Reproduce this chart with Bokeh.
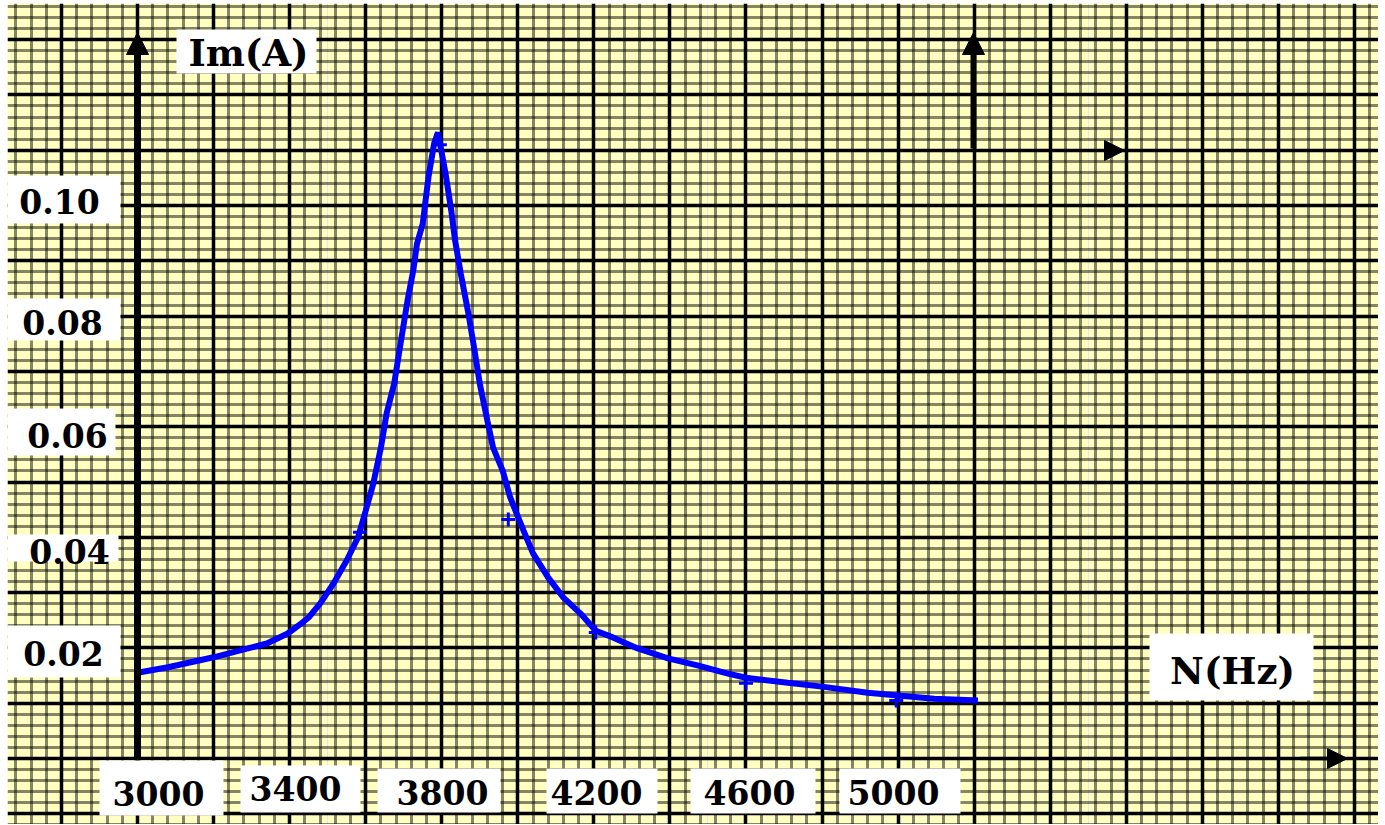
from bokeh.plotting import figure
from bokeh.models import Grid, FixedTicker, BoxAnnotation, Label, Arrow, NormalHead, Range1d
from bokeh.embed import file_html
from bokeh.resources import INLINE

# ---------------- data ----------------
freq = [3000, 3080, 3200, 3290, 3340, 3395, 3430, 3450, 3480, 3515,
        3550, 3580, 3600, 3620, 3640, 3655, 3675, 3690, 3710, 3725,
        3735, 3750, 3765, 3780, 3790, 3810, 3825, 3835, 3850, 3870,
        3885, 3900, 3920, 3935, 3960, 3980, 4015, 4040, 4080, 4120,
        4165, 4205, 4250, 4315, 4395, 4475, 4550, 4600, 4710, 4800,
        4920, 5000, 5095, 5210]
current = [0.0155, 0.0165, 0.0183, 0.0199, 0.0208, 0.0226, 0.0244, 0.0255, 0.0280, 0.0316,
           0.0358, 0.0400, 0.0448, 0.0497, 0.0562, 0.0624, 0.0678, 0.0743, 0.0828, 0.0882,
           0.0931, 0.0967, 0.1051, 0.1112, 0.1132, 0.1058, 0.0991, 0.0937, 0.0877, 0.0805,
           0.0743, 0.0678, 0.0611, 0.0562, 0.0521, 0.0472, 0.0412, 0.0371, 0.0327, 0.0291,
           0.0262, 0.0231, 0.0219, 0.0199, 0.0181, 0.0168, 0.0154, 0.0146, 0.0137, 0.0130,
           0.0119, 0.0114, 0.0108, 0.0105]

meas_freq = [3585, 3795, 3975, 4205, 4600, 4995]
meas_current = [0.0409, 0.1110, 0.0432, 0.0228, 0.0136, 0.0105]

y_labels = ["0.10", "0.08", "0.06", "0.04", "0.02"]
x_labels = ["3000", "3400", "3800", "4200", "4600", "5000"]
x_title = "N(Hz)"
y_title = "Im(A)"

# ---------------- layout helpers (page pixels -> data) ----------------
LEFT, TOP = 7, 3
W, H = 1378, 824
PX_PER_HZ = 0.3803
PX_PER_A = 5530.0


def X(px):
    return 3000 + (px - 137) / PX_PER_HZ


def Y(py):
    return (758 - py) / PX_PER_A


p = figure(width=W, height=H, output_backend="svg", toolbar_location=None,
           x_axis_location=None, y_axis_location=None,
           x_range=Range1d(X(LEFT), X(W)), y_range=Range1d(Y(H), Y(TOP)),
           min_border=0, min_border_left=LEFT, min_border_top=TOP,
           background_fill_color="#FFFFC0",
           border_fill_color="white", outline_line_color=None)

# graph-paper grid
x_major = [2600 + 200 * k for k in range(20)]
x_minor = [2600 + 40 * k for k in range(100) if k % 5 != 0]
y_major = [round(-0.02 + 0.01 * k, 4) for k in range(18)]
y_minor = [round(-0.02 + 0.002 * k, 4) for k in range(90) if k % 5 != 0]

for dim, maj, mnr in ((0, x_major, x_minor), (1, y_major, y_minor)):
    g = Grid(dimension=dim, ticker=FixedTicker(ticks=maj, minor_ticks=mnr),
             grid_line_color="black", grid_line_width=3.5,
             minor_grid_line_color="black", minor_grid_line_alpha=0.48,
             minor_grid_line_width=3)
    p.add_layout(g)

# curve and measured points
p.line(freq, current, line_color="#0000FF", line_width=6)
p.scatter(meas_freq, meas_current, marker="cross", size=14,
          line_color="#0000FF", line_width=3)

# axes arrows
p.add_layout(Arrow(x_start=3000, y_start=Y(760), x_end=3000, y_end=Y(32),
                   line_color="black", line_width=7,
                   end=NormalHead(size=22, fill_color="black", line_color="black")))
p.add_layout(Arrow(x_start=X(973), y_start=Y(148), x_end=X(973), y_end=Y(32),
                   line_color="black", line_width=6,
                   end=NormalHead(size=22, fill_color="black", line_color="black")))
p.add_layout(Arrow(x_start=X(973), y_start=Y(150), x_end=X(1124), y_end=Y(150),
                   line_color="black", line_alpha=0.2, line_width=3,
                   end=NormalHead(size=20, fill_color="black", line_color="black")))
p.add_layout(Arrow(x_start=X(1300), y_start=0, x_end=X(1347), y_end=0,
                   line_color="black", line_width=3.5,
                   end=NormalHead(size=20, fill_color="black", line_color="black")))

# labelled white boxes: (left, top, right, bottom, text-centre x, text-centre y)
boxes_y = [(7, 175, 120, 223, 59, 201), (7, 298, 120, 340, 62, 322),
           (7, 408, 115, 455, 67, 435), (7, 534, 118, 561, 69, 551),
           (7, 625, 120, 677, 63, 653)]
boxes_x = [(99, 760, 223, 815, 158, 793), (240, 765, 360, 812, 295, 788),
           (377, 768, 500, 812, 442, 792), (546, 768, 657, 813, 596, 792),
           (690, 768, 815, 813, 749, 792), (839, 768, 960, 813, 893, 792)]
box_titles = [(1149, 633, 1313, 700, 1232, 670), (176, 29, 316, 73, 248, 52)]

items = [(t, b, "33px") for t, b in zip(y_labels, boxes_y)] + \
    [(t, b, "33px") for t, b in zip(x_labels, boxes_x)] + \
    [(t, b, "37px") for t, b in zip([x_title, y_title], box_titles)]

for txt, (l, t, r, b, cx, cy), fs in items:
    p.add_layout(BoxAnnotation(left=X(l), right=X(r), top=Y(t), bottom=Y(b),
                               fill_color="white", fill_alpha=1.0, line_color=None))
    p.add_layout(Label(x=X(cx), y=Y(cy), text=txt, text_align="center",
                       text_baseline="middle", text_font="DejaVu Serif",
                       text_font_style="bold", text_font_size=fs,
                       text_color="black"))

open("out.html", "w").write(file_html(p, INLINE))
